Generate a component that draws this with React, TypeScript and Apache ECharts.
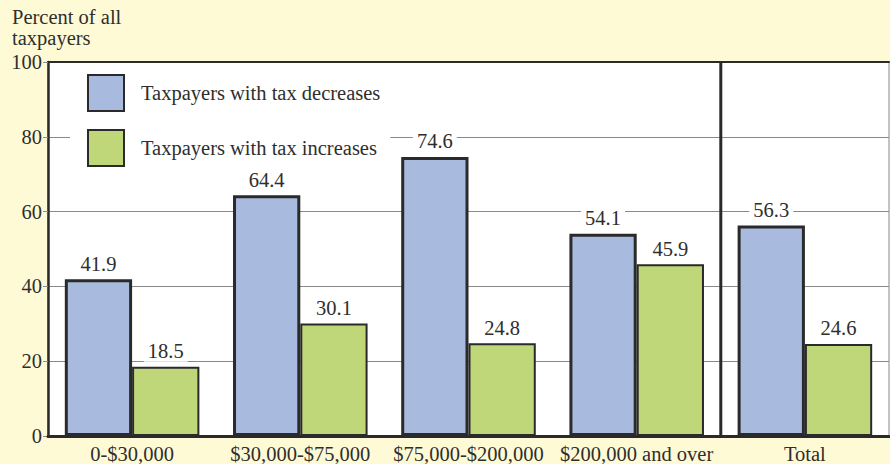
import React, { useEffect, useRef } from "react";
import * as echarts from "echarts";

const categories = ["0-$30,000", "$30,000-$75,000", "$75,000-$200,000", "$200,000 and over", "Total"];
const decreases = [41.9, 64.4, 74.6, 54.1, 56.3];
const increases = [18.5, 30.1, 24.8, 45.9, 24.6];
const yTicks = { min: 0, max: 100, interval: 20 };
// separator drawn at the left edge of the "Total" category
const separatorAt = [[4, 0, 100]];

const FONT = "'Liberation Serif', 'Times New Roman', serif";
const FS = 20.5;
const TEXT = "#2e2e2e";
const DARK = "#2a2a2a";

export default function App() {
  const ref = useRef<HTMLDivElement>(null);
  useEffect(() => {
    const chart = echarts.init(ref.current!, undefined, { renderer: "svg" });
    const label = {
      show: true,
      position: "top" as const,
      distance: 5,
      fontSize: FS,
      fontFamily: FONT,
      color: TEXT,
      backgroundColor: "#ffffff",
      padding: [0, 4, 0, 4],
      formatter: (p: any) => p.value.toFixed(1),
    };
    chart.setOption({
      animation: false,
      backgroundColor: "#FFFAD6",
      textStyle: { fontFamily: FONT },
      title: {
        text: "Percent of all\ntaxpayers",
        left: 12,
        top: 6,
        padding: 0,
        textStyle: { fontSize: FS, lineHeight: 21, fontWeight: "normal", fontFamily: FONT, color: TEXT },
      },
      legend: {
        orient: "vertical",
        left: 70,
        top: 66,
        z: 1,
        padding: [8, 10, 8, 17],
        backgroundColor: "#ffffff",
        itemWidth: 36,
        itemHeight: 36,
        itemGap: 17,
        icon: "rect",
        textStyle: { fontSize: FS, fontFamily: FONT, color: TEXT, padding: [0, 0, 0, 12] },
        data: ["Taxpayers with tax decreases", "Taxpayers with tax increases"],
      },
      grid: {
        left: 48,
        right: 1,
        top: 62,
        bottom: 28,
        show: true,
        backgroundColor: "#ffffff",
        borderColor: "#8a8a8a",
        borderWidth: 1,
      },
      xAxis: [
        {
          type: "category",
          data: categories,
          axisLine: { show: true, lineStyle: { color: DARK, width: 3 } },
          axisTick: { show: false },
          axisLabel: { fontSize: FS, fontFamily: FONT, color: TEXT, margin: 7, interval: 0 },
          splitLine: { show: false },
          z: 10,
        },
        {
          type: "category",
          data: categories,
          position: "top",
          axisLine: { show: true, lineStyle: { color: DARK, width: 2 } },
          axisTick: { show: false },
          axisLabel: { show: false },
          splitLine: { show: false },
        },
      ],
      yAxis: {
        type: "value",
        min: yTicks.min,
        max: yTicks.max,
        interval: yTicks.interval,
        axisLine: { show: true, lineStyle: { color: DARK, width: 2.5 } },
        axisTick: { show: true, length: 5, lineStyle: { color: "#8a8a8a" } },
        axisLabel: { fontSize: FS, fontFamily: FONT, color: TEXT, margin: 6 },
        splitLine: { show: true, lineStyle: { color: "#8a8a8a", width: 1.2 } },
      },
      series: [
        {
          name: "Taxpayers with tax decreases",
          type: "bar",
          data: decreases,
          barWidth: "40%",
          barGap: "0%",
          z: 3,
          itemStyle: { color: "#A9BADF", borderColor: DARK, borderWidth: 3 },
          label,
        },
        {
          name: "Taxpayers with tax increases",
          type: "bar",
          data: increases,
          barWidth: "40%",
          barGap: "0%",
          z: 3,
          itemStyle: { color: "#BFD679", borderColor: DARK, borderWidth: 2 },
          label,
        },
        {
          name: "separator",
          type: "custom",
          silent: true,
          z: 4,
          data: separatorAt,
          renderItem: (_params: any, api: any) => {
            const idx = api.value(0);
            const top = api.coord([idx, api.value(2)]);
            const bot = api.coord([idx, api.value(1)]);
            const bw = api.size([1, 0])[0];
            const x = top[0] - bw / 2;
            return {
              type: "line",
              shape: { x1: x, y1: top[1], x2: x, y2: bot[1] },
              style: { stroke: DARK, lineWidth: 3 },
            };
          },
        },
      ],
    });
    return () => chart.dispose();
  }, []);
  return (
    <div
      ref={ref}
      style={{ position: "fixed", left: 0, top: 0, width: 890, height: 464, background: "#FFFAD6" }}
    />
  );
}
